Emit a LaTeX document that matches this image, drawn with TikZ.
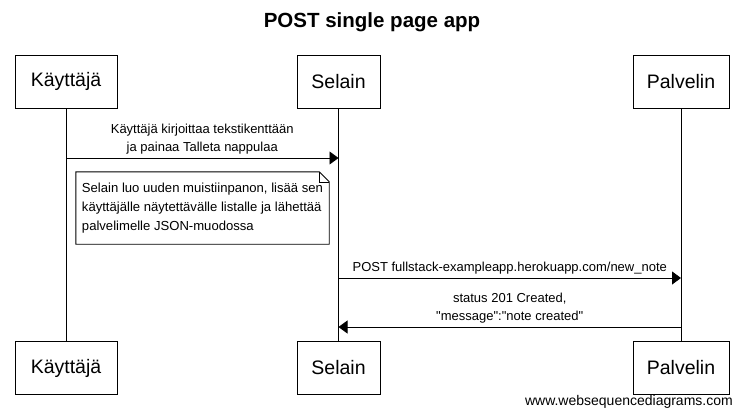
\documentclass[tikz,border=0pt]{standalone}
\usepackage{fontspec}
\setmainfont{Liberation Sans}
\usepackage{xcolor}
\usepackage{tikz}
\usetikzlibrary{arrows.meta,positioning,calc}
\definecolor{Ink}{HTML}{000000}

\begin{document}
\begin{tikzpicture}[x=1pt,y=-1pt,font=\fontsize{13}{18}\selectfont,
    actor/.style={draw=Ink,line width=1pt,minimum height=53pt,font=\fontsize{19.5}{22}\selectfont},
    msg/.style={-{Triangle[length=9pt,width=13pt]},line width=0.9pt,Ink},
    lbl/.style={align=center,inner sep=3pt}]
  \useasboundingbox (0,0) rectangle (743,418);
  \node[font=\bfseries\fontsize{20.5}{24}\selectfont] (title) at (372,22) {POST single page app};
  \foreach \n/\t/\x/\w in {kay/Käyttäjä/66/102,sel/Selain/338.5/83,pal/Palvelin/681/96} {
    \node[actor,minimum width=\w pt] (\n top) at (\x,81.5) {\t};
    \node[actor,minimum width=\w pt] (\n bot) at (\x,368) {\t};
    \draw[line width=0.8pt,Ink] (\n top) -- (\n bot);
  }
  % points on the lifelines
  \coordinate (k1) at (kaytop.south |- 0,158);
  \coordinate (s1) at (seltop.south |- 0,158);
  \coordinate (s2) at (seltop.south |- 0,278);
  \coordinate (p2) at (paltop.south |- 0,278);
  \coordinate (p3) at (paltop.south |- 0,327);
  \coordinate (s3) at (seltop.south |- 0,327);
  \draw[msg] (k1) -- (s1) node[midway,above,lbl] (m1) {Käyttäjä kirjoittaa tekstikenttään\\ja painaa Talleta nappulaa};
  \node[fill=white,align=left,inner xsep=5pt,minimum width=253pt,minimum height=72pt,
    font=\fontsize{13.1}{19}\selectfont] (note) at (202.5,208)
    {Selain luo uuden muistiinpanon, lisää sen\\käyttäjälle näytettävälle listalle ja lähettää\\palvelimelle JSON-muodossa};
  \draw[line width=0.9pt,Ink] (note.north west) -- ([xshift=-10pt]note.north east) -- ([yshift=-10pt]note.north east)
    -- (note.south east) -- (note.south west) -- cycle;
  \draw[line width=0.6pt,Ink] ([xshift=-10pt]note.north east) -- ([xshift=-10pt,yshift=-10pt]note.north east) -- ([yshift=-10pt]note.north east);
  \draw[msg] (s2) -- (p2) node[midway,above,lbl] (m2) {POST fullstack-exampleapp.herokuapp.com/new\_note};
  \draw[msg] (p3) -- (s3) node[midway,above,lbl] (m3) {status 201 Created,\\\textquotedbl message\textquotedbl:\textquotedbl note created\textquotedbl};
  \node[anchor=east,inner sep=0pt,font=\fontsize{14}{16}\selectfont] (wsd) at (733,402) {www.websequencediagrams.com};
\end{tikzpicture}
\end{document}
